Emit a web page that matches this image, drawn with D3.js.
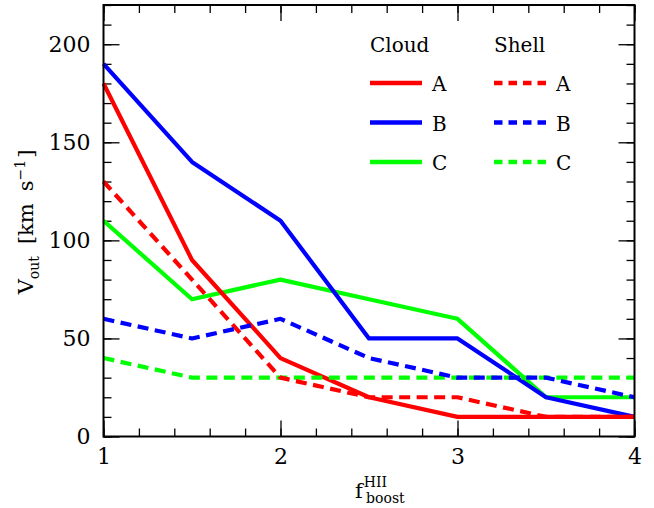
<!DOCTYPE html>
<html>
<head>
<meta charset="utf-8">
<script src="https://cdn.jsdelivr.net/npm/d3@7"></script>
<style>
  body { margin: 0; background: #fff; }
  svg { display: block; }
  text { font-family: "DejaVu Serif", serif; fill: #000; }
</style>
</head>
<body>
<svg id="chart" width="654" height="508"></svg>
<script>
// boost factor on the x axis
var fboost = [1, 1.5, 2, 2.5, 3, 3.5, 4];

// outflow velocities, km/s
var cloudA = [180, 90, 40, 20, 10, 10, 10];
var cloudB = [190, 140, 110, 50, 50, 20, 10];
var cloudC = [110, 70, 80, 70, 60, 20, 20];
var shellA = [130, 80, 30, 20, 20, 10, 10];
var shellB = [60, 50, 60, 40, 30, 30, 20];
var shellC = [40, 30, 30, 30, 30, 30, 30];

var series = [
    {name: 'A', kind: 'Cloud', values: cloudA, color: '#ff0000'},
    {name: 'B', kind: 'Cloud', values: cloudB, color: '#0000ff'},
    {name: 'C', kind: 'Cloud', values: cloudC, color: '#00ff00'},
    {name: 'A', kind: 'Shell', values: shellA, color: '#ff0000'},
    {name: 'B', kind: 'Shell', values: shellB, color: '#0000ff'},
    {name: 'C', kind: 'Shell', values: shellC, color: '#00ff00'}
];

var xMajor = [1, 2, 3, 4];
var yMajor = [0, 50, 100, 150, 200];

var svg = d3.select('#chart');
var L = 103.5, R = 634.5, T = 5, B = 436.5;

var x = d3.scaleLinear().domain([1, 4]).range([L, R]);
var y = d3.scaleLinear().domain([0, 220]).range([B, T]);

var xMinor = d3.range(1, 4.001, 0.2);
var yMinor = d3.range(0, 220.001, 10);

function styleAxis(g) {
    g.select('.domain').remove();
    g.selectAll('.tick line').attr('stroke', '#000').attr('stroke-width', 1.3);
    g.selectAll('.tick text').style('font-size', '22px').style('font-family', '"DejaVu Serif", serif');
}

// minor ticks, all four sides
svg.append('g').attr('transform', 'translate(0,' + B + ')')
    .call(d3.axisBottom(x).tickValues(xMinor).tickSize(-8).tickFormat(''))
    .call(styleAxis);
svg.append('g').attr('transform', 'translate(0,' + T + ')')
    .call(d3.axisTop(x).tickValues(xMinor).tickSize(-8).tickFormat(''))
    .call(styleAxis);
svg.append('g').attr('transform', 'translate(' + L + ',0)')
    .call(d3.axisLeft(y).tickValues(yMinor).tickSize(-8).tickFormat(''))
    .call(styleAxis);
svg.append('g').attr('transform', 'translate(' + R + ',0)')
    .call(d3.axisRight(y).tickValues(yMinor).tickSize(-8).tickFormat(''))
    .call(styleAxis);

// major ticks with labels
svg.append('g').attr('transform', 'translate(0,' + B + ')')
    .call(d3.axisBottom(x).tickValues(xMajor).tickSize(-16).tickPadding(12).tickFormat(d3.format('d')))
    .call(styleAxis);
svg.append('g').attr('transform', 'translate(0,' + T + ')')
    .call(d3.axisTop(x).tickValues(xMajor).tickSize(-16).tickFormat(''))
    .call(styleAxis);
svg.append('g').attr('transform', 'translate(' + L + ',0)')
    .call(d3.axisLeft(y).tickValues(yMajor).tickSize(-16).tickPadding(13).tickFormat(d3.format('d')))
    .call(styleAxis);
svg.append('g').attr('transform', 'translate(' + R + ',0)')
    .call(d3.axisRight(y).tickValues(yMajor).tickSize(-16).tickFormat(''))
    .call(styleAxis);

// data lines
var line = d3.line()
    .x(function(d, i) { return x(fboost[i]); })
    .y(function(d) { return y(d); });

var order = [2, 1, 0, 5, 3, 4];
order.forEach(function(i) {
    var s = series[i];
    svg.append('path')
        .attr('d', line(s.values))
        .attr('fill', 'none')
        .attr('stroke', s.color)
        .attr('stroke-width', 4.2)
        .attr('stroke-linejoin', 'round')
        .attr('stroke-dasharray', s.kind == 'Shell' ? '11,6.5' : null);
});

// frame
svg.append('rect')
    .attr('x', L).attr('y', T)
    .attr('width', R - L).attr('height', B - T)
    .attr('fill', 'none').attr('stroke', '#000').attr('stroke-width', 2);

// legend
var legX = {Cloud: 370, Shell: 494};
var legY = [83, 122.5, 162];
['Cloud', 'Shell'].forEach(function(k) {
    svg.append('text').attr('x', legX[k]).attr('y', 52)
        .style('font-size', '20px').text(k);
});
series.forEach(function(s, i) {
    var x0 = legX[s.kind];
    var yy = legY[i % 3];
    svg.append('line')
        .attr('x1', x0).attr('x2', x0 + 52)
        .attr('y1', yy).attr('y2', yy)
        .attr('stroke', s.color).attr('stroke-width', 4.5)
        .attr('stroke-dasharray', s.kind == 'Shell' ? '8.5,6' : null);
    svg.append('text').attr('x', x0 + 62).attr('y', yy + 8)
        .style('font-size', '20px').text(s.name);
});

// axis titles
var xt = svg.append('text').attr('x', 355).attr('y', 498).style('font-size', '21px');
xt.append('tspan').text('f');
xt.append('tspan').attr('dy', -11).attr('dx', 1).style('font-size', '14px').text('HII');
xt.append('tspan').attr('dy', 16).attr('dx', -21).style('font-size', '14px').text('boost');

var yt = svg.append('text')
    .attr('transform', 'translate(33,222) rotate(-90)')
    .attr('text-anchor', 'middle')
    .style('font-size', '21px');
yt.append('tspan').text('V');
yt.append('tspan').attr('dy', 6).style('font-size', '14px').text('out');
yt.append('tspan').attr('dy', -6).attr('dx', 12).text('[km');
yt.append('tspan').attr('dx', 12).text('s');
yt.append('tspan').attr('dy', -8).style('font-size', '14px').text('\u22121');
yt.append('tspan').attr('dy', 8).attr('dx', 2).text(']');
</script>
</body>
</html>
